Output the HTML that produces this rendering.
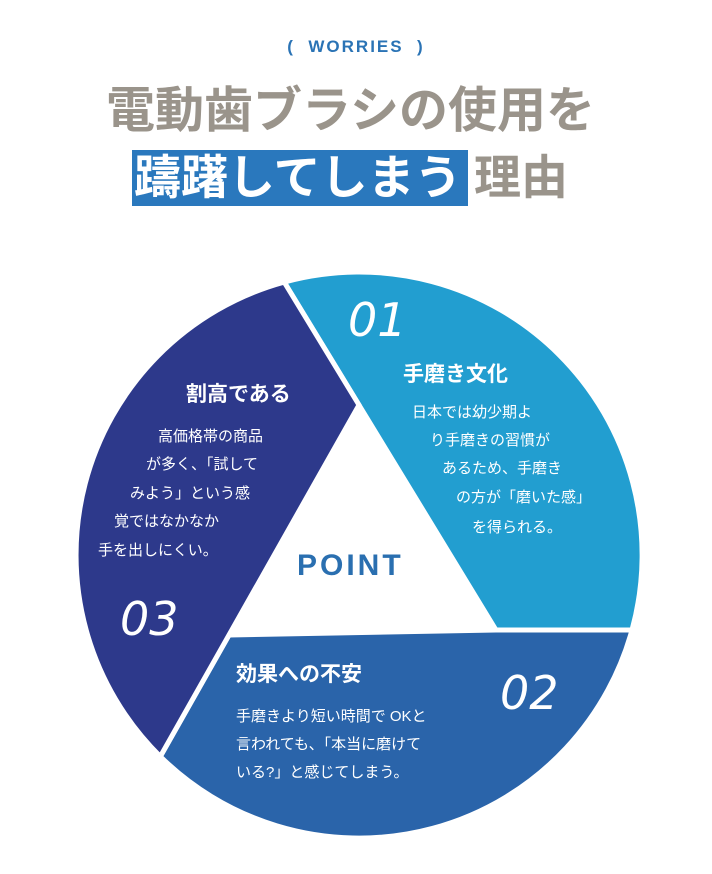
<!DOCTYPE html>
<html><head><meta charset="utf-8"><style>
body{margin:0;width:712px;height:874px;background:#fff;position:relative;overflow:hidden;font-family:"Liberation Sans","Noto Sans CJK JP",sans-serif}
.t{position:absolute;white-space:nowrap;line-height:1}
.w{color:#fff}
.h{font-weight:bold;font-size:21px}
.b{font-size:15px}
.n{font-size:46px;font-style:italic;font-weight:normal;color:#fff;font-family:"DejaVu Sans","Liberation Sans",sans-serif;font-weight:200}
</style></head><body>
<div class="t" style="left:0;width:712px;text-align:center;top:38px;font-size:17px;font-weight:bold;color:#2a73b5;letter-spacing:2px">(&nbsp;&nbsp;WORRIES&nbsp;&nbsp;)</div>
<div class="t" style="left:106px;top:87px;font-size:49px;font-weight:bold;color:#9a948b;letter-spacing:0px">電動歯ブラシの使用を</div>
<div style="position:absolute;left:132px;top:150px;width:336px;height:56px;background:#2a78bd"></div>
<div class="t" style="left:134px;top:154px;font-size:47px;font-weight:bold;color:#fff">躊躇してしまう</div>
<div class="t" style="left:474px;top:154px;font-size:47px;font-weight:bold;color:#9a948b">理由</div>

<svg style="position:absolute;left:0;top:0" width="712" height="874">
<g stroke="#fff" stroke-width="5" stroke-linejoin="miter">
<path d="M284.2,282.1 L359,405 L496,630 L632,630 A283,283 0 0 0 284.2,282.1 Z" fill="#229ed0"/>
<path d="M632,630 L496,630 L229,635 L160.3,756.5 A283,283 0 0 0 632,630 Z" fill="#2a64aa"/>
<path d="M160.3,756.5 L229,635 L359,405 L284.2,282.1 A283,283 0 0 0 160.3,756.5 Z" fill="#2d398b"/>
</g>
</svg>

<div class="t n" style="left:348px;top:297px">01</div>
<div class="t n" style="left:120px;top:596px">03</div>
<div class="t n" style="left:500px;top:670px">02</div>
<div class="t" style="left:297px;top:551px;font-size:30px;font-weight:bold;color:#2a6fb0;letter-spacing:3px">POINT</div>

<div class="t w h" style="left:403px;top:364px">手磨き文化</div>
<div class="t w b" style="left:412px;top:405px">日本では幼少期よ</div>
<div class="t w b" style="left:430px;top:433px">り手磨きの習慣が</div>
<div class="t w b" style="left:442px;top:461px">あるため、手磨き</div>
<div class="t w b" style="left:456px;top:490px">の方が「磨いた感」</div>
<div class="t w b" style="left:472px;top:520px">を得られる。</div>

<div class="t w h" style="left:186px;top:384px">割高である</div>
<div class="t w b" style="left:158px;top:429px">高価格帯の商品</div>
<div class="t w b" style="left:146px;top:457px">が多く、「試して</div>
<div class="t w b" style="left:130px;top:486px">みよう」という感</div>
<div class="t w b" style="left:114px;top:514px">覚ではなかなか</div>
<div class="t w b" style="left:98px;top:543px">手を出しにくい。</div>

<div class="t w h" style="left:236px;top:664px">効果への不安</div>
<div class="t w b" style="left:236px;top:709px">手磨きより短い時間で OKと</div>
<div class="t w b" style="left:236px;top:737px">言われても、「本当に磨けて</div>
<div class="t w b" style="left:236px;top:765px">いる?」と感じてしまう。</div>
</body></html>
